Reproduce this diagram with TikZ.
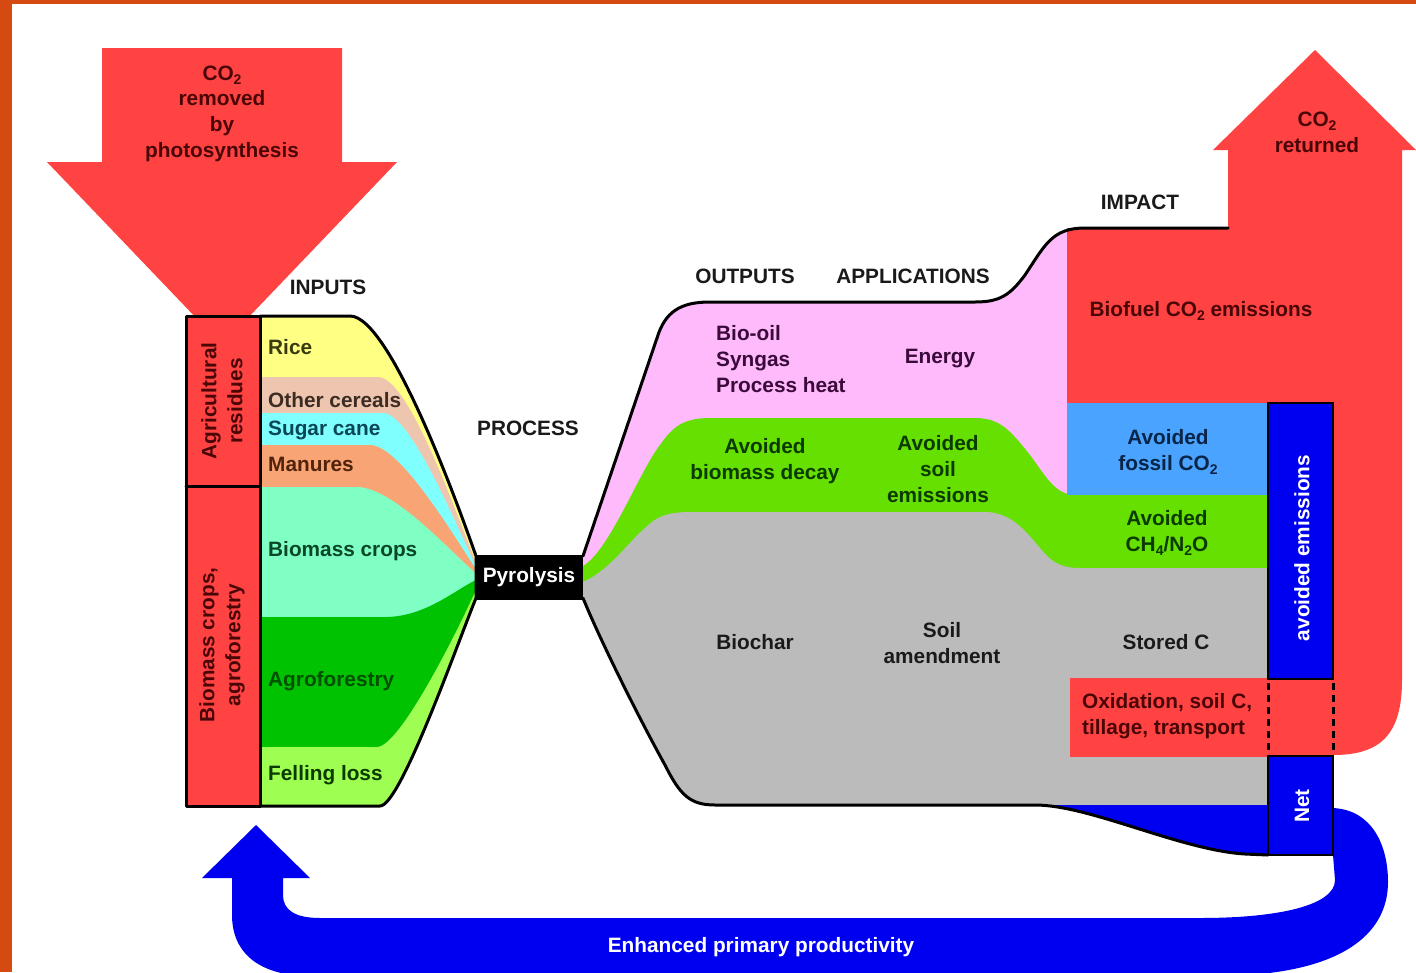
\documentclass[tikz,border=0pt]{standalone}
\usepackage{fontspec}
\setmainfont{Liberation Sans}
\definecolor{cred}{HTML}{FF4343}
\definecolor{crice}{HTML}{FFFF84}
\definecolor{coc}{HTML}{EEC6B0}
\definecolor{csc}{HTML}{80FFFF}
\definecolor{cman}{HTML}{F9A474}
\definecolor{cbio}{HTML}{80FFC4}
\definecolor{cagro}{HTML}{00C200}
\definecolor{cfell}{HTML}{9EFF52}
\definecolor{cpink}{HTML}{FFBAFC}
\definecolor{cgreen}{HTML}{66E000}
\definecolor{cgray}{HTML}{BBBBBB}
\definecolor{clblue}{HTML}{4AA3FF}
\definecolor{cblue}{HTML}{0000F0}
\definecolor{cframe}{HTML}{D44A10}
\definecolor{tred}{HTML}{4A0606}
\definecolor{tpur}{HTML}{3A0A3A}
\definecolor{tgrn}{HTML}{0A3A00}
\definecolor{tdark}{HTML}{1A1A1A}
\newcommand\lowidx[1]{\raisebox{-0.35ex}{\fontsize{14}{14}\selectfont #1}}
\def\inputshape{(260,316) -- (350,316) .. controls (390,316) and (458,505) .. (476,556) -- (476,598) .. controls (455,650) and (400,806) .. (380,806) -- (260,806) -- cycle}
\def\outshape{(583,556) -- (657,338) .. controls (665,312) and (680,302) .. (710,302) -- (975,302) .. controls (1000,302) and (1010,295) .. (1025,275) .. controls (1045,245) and (1052,228) .. (1085,228) -- (1268,228) -- (1268,855) -- (1245,854) .. controls (1180,850) and (1090,805) .. (1035,805) -- (715,805) .. controls (690,805) and (680,795) .. (665,765) .. controls (640,720) and (600,640) .. (583,598) -- cycle}
\begin{document}
\begin{tikzpicture}[x=1pt,y=-1pt,
  lbl/.style={font=\bfseries\fontsize{20.8}{26}\selectfont, inner sep=0pt, align=center, text=tdark},
  outl/.style={line width=3pt, line join=round, line cap=round}]
\useasboundingbox (0,0) rectangle (1416,972);
\fill[white] (0,0) rectangle (1416,972);
\fill[cframe] (0,0) rectangle (12,972);
\fill[cframe] (0,0) rectangle (1416,4);

% CO2 removed arrow
\fill[cred] (102,48) -- (342,48) -- (342,162) -- (397,162) -- (222,345) -- (47,162) -- (102,162) -- cycle;

% inputs
\fill[crice] \inputshape;
\begin{scope}
\clip \inputshape;
\fill[coc] (250,377) -- (378,377) .. controls (410,377) and (460,525) .. (476,562) -- (490,562) -- (490,900) -- (250,900) -- cycle;
\fill[csc] (250,413) -- (383,413) .. controls (412,413) and (462,540) .. (476,566) -- (490,566) -- (490,900) -- (250,900) -- cycle;
\fill[cman] (250,445) -- (370,445) .. controls (402,445) and (462,550) .. (476,569) -- (490,569) -- (490,900) -- (250,900) -- cycle;
\fill[cbio] (250,487) -- (357,487) .. controls (395,487) and (458,560) .. (476,573) -- (490,573) -- (490,900) -- (250,900) -- cycle;
\fill[cagro] (250,617) -- (385,617) .. controls (425,617) and (455,590) .. (476,580) -- (490,580) -- (490,900) -- (250,900) -- cycle;
\fill[cfell] (250,747) -- (377,747) .. controls (400,747) and (458,630) .. (476,590) -- (490,590) -- (490,900) -- (250,900) -- cycle;
\end{scope}
\draw[outl] \inputshape;
\draw[outl, fill=cred] (186,316) rectangle (260,806);
\draw[outl] (186,486) -- (260,486);

% outputs
\fill[cpink] \outshape;
\begin{scope}
\clip \outshape;
\fill[cgreen] (583,566) .. controls (610,550) and (640,470) .. (660,445) .. controls (672,428) and (682,418) .. (710,418) -- (975,418) .. controls (1000,418) and (1010,430) .. (1030,455) .. controls (1045,475) and (1055,495) .. (1075,495) -- (1300,495) -- (1300,900) -- (560,900) -- (560,566) -- cycle;
\fill[cgray] (583,582) .. controls (610,570) and (630,540) .. (645,528) .. controls (655,518) and (665,512) .. (690,512) -- (985,512) .. controls (1010,512) and (1025,530) .. (1040,548) .. controls (1050,560) and (1058,568) .. (1080,568) -- (1300,568) -- (1300,900) -- (560,900) -- (560,582) -- cycle;
\fill[cblue] (1030,805) rectangle (1300,900);
\end{scope}

% impact
\fill[cred] (1067,228) -- (1228,228) -- (1228,150) -- (1213,150) -- (1315,50) -- (1416,150) -- (1402,150) -- (1402,680) .. controls (1402,735) and (1380,755) .. (1333,755) -- (1268,755) -- (1268,403) -- (1067,403) -- cycle;
\fill[clblue] (1067,403) rectangle (1268,495);
\fill[cred] (1070,678) rectangle (1268,757);

\draw[outl] (583,556) -- (657,338) .. controls (665,312) and (680,302) .. (710,302) -- (975,302) .. controls (1000,302) and (1010,295) .. (1025,275) .. controls (1045,245) and (1052,228) .. (1085,228) -- (1228,228);
\draw[outl] (583,598) .. controls (600,640) and (640,720) .. (665,765) .. controls (680,795) and (690,805) .. (715,805) -- (1035,805) .. controls (1090,805) and (1180,850) .. (1245,854) -- (1268,855);

% blue loop
\fill[cblue] (1333,808) .. controls (1372,810) and (1388,845) .. (1388,882) .. controls (1388,935) and (1340,975) .. (1220,976) -- (310,976) .. controls (262,976) and (232,955) .. (232,915) -- (232,878) -- (202,878) -- (256,825) -- (310,878) -- (283,878) -- (283,895) .. controls (283,910) and (295,918) .. (320,918) -- (1200,918) .. controls (1280,918) and (1335,905) .. (1335,880) -- (1333,855) -- cycle;

% blue column
\draw[line width=2.5pt, fill=cblue] (1268,403) rectangle (1333,679);
\draw[line width=2.5pt, fill=cblue] (1268,756) rectangle (1333,855);
\draw[line width=3pt, dash pattern=on 7pt off 5pt] (1268,683) -- (1268,754);
\draw[line width=3pt, dash pattern=on 7pt off 5pt] (1333,683) -- (1333,754);

% pyrolysis
\fill[black] (476,555) rectangle (583,600);

% texts
\node[lbl, text=tred] (co2in) at (222,114) {CO\lowidx{2}\\[-1pt]removed\\by\\photosynthesis};
\node[lbl, text=tred] (co2out) at (1317,132) {CO\lowidx{2}\\returned};
\node[lbl] (hin) at (328,287) {INPUTS};
\node[lbl] (hproc) at (528,428) {PROCESS};
\node[lbl] (hout) at (745,276) {OUTPUTS};
\node[lbl] (happ) at (913,276) {APPLICATIONS};
\node[lbl] (himp) at (1140,202) {IMPACT};
\node[lbl, text=white] (pyro) at (529,577) {Pyrolysis};

\node[lbl, text=tred, rotate=90] (agres) at (222,401) {Agricultural\\residues};
\node[lbl, text=tred, rotate=90] (bmc) at (222,645) {Biomass crops,\\agroforestry};

\node[lbl, anchor=west, text={rgb,255:red,58;green,58;blue,16}] (rice) at (268,347) {Rice};
\node[lbl, anchor=west, text={rgb,255:red,60;green,44;blue,36}] (oc) at (268,400) {Other cereals};
\node[lbl, anchor=west, text={rgb,255:red,10;green,70;blue,90}] (sc) at (268,430) {Sugar cane};
\node[lbl, anchor=west, text={rgb,255:red,80;green,36;blue,12}] (man) at (268,464) {Manures};
\node[lbl, anchor=west, text={rgb,255:red,10;green,70;blue,40}] (bio) at (268,551) {Biomass crops};
\node[lbl, anchor=west, text={rgb,255:red,0;green,80;blue,0}] (agro) at (268,681) {Agroforestry};
\node[lbl, anchor=west, text=tgrn] (fell) at (268,775) {Felling loss};

\node[lbl, anchor=west, align=left, text=tpur] (oil) at (716,359) {Bio-oil\\Syngas\\Process heat};
\node[lbl, text=tpur] (energy) at (940,359) {Energy};
\node[lbl, text=tgrn] (abd) at (765,461) {Avoided\\biomass decay};
\node[lbl, text=tgrn] (ase) at (938,469) {Avoided\\soil\\emissions};
\node[lbl] (biochar) at (755,642) {Biochar};
\node[lbl] (soilam) at (942,643) {Soil\\amendment};
\node[lbl, text=tred] (biofuel) at (1201,311) {Biofuel CO\lowidx{2} emissions};
\node[lbl, text={rgb,255:red,8;green,36;blue,70}] (afc) at (1168,452) {Avoided\\fossil CO\lowidx{2}};
\node[lbl, text=tgrn] (ach) at (1167,533) {Avoided\\CH\lowidx{4}/N\lowidx{2}O};
\node[lbl] (stored) at (1166,642) {Stored C};
\node[lbl, anchor=west, align=left, text=tred] (oxid) at (1082,716) {Oxidation, soil C,\\tillage, transport};
\node[lbl, text=white, rotate=90] (avem) at (1302,548) {avoided emissions};
\node[lbl, text=white, rotate=90] (net) at (1302,806) {Net};
\node[lbl, text=white] (epp) at (761,947) {Enhanced primary productivity};
\end{tikzpicture}
\end{document}
